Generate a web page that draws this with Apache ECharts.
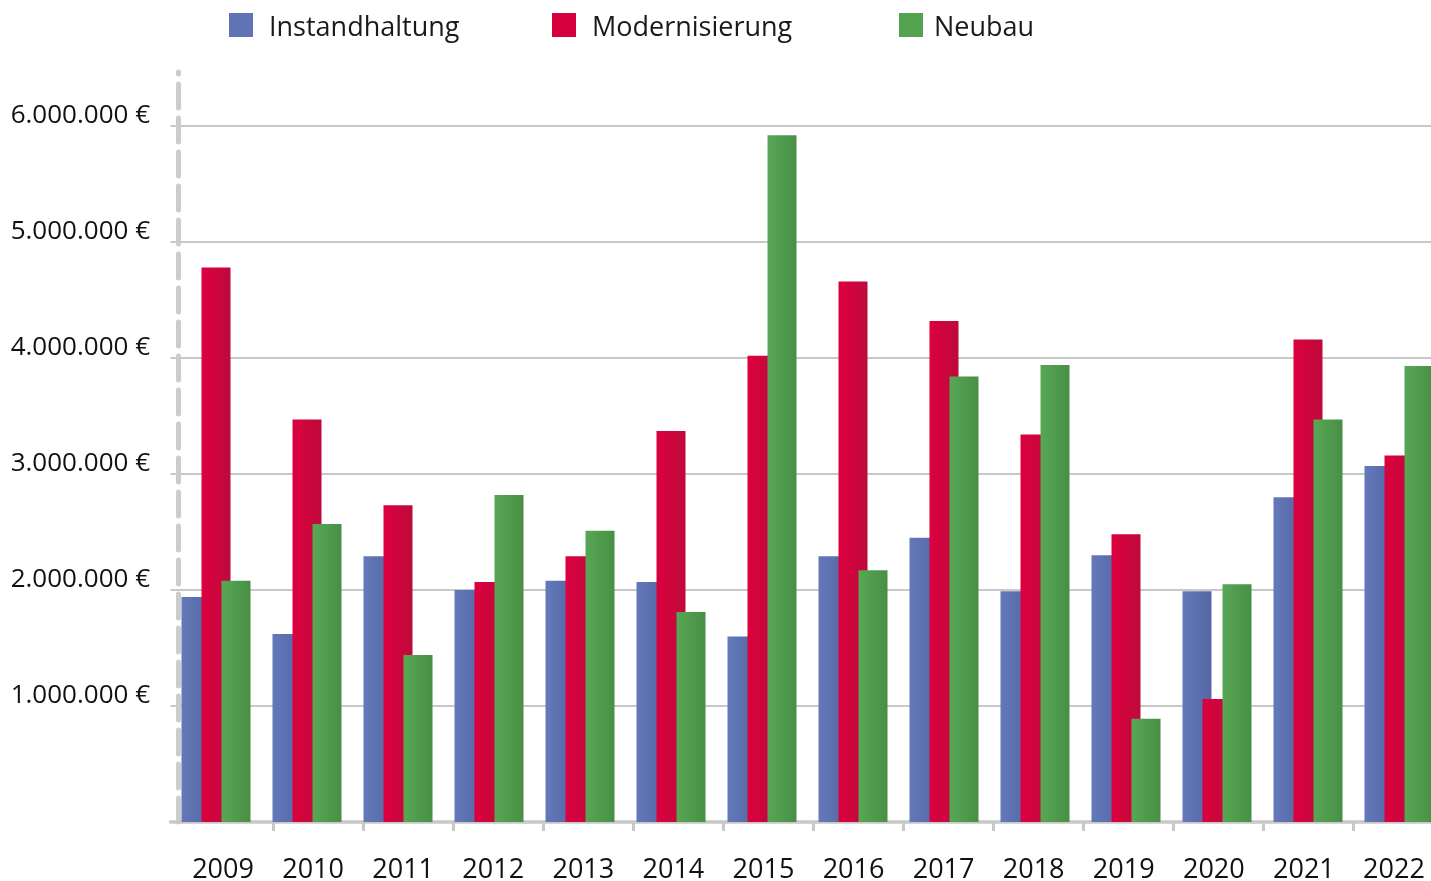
<!DOCTYPE html>
<html><head><meta charset="utf-8">
<script src="https://cdn.jsdelivr.net/npm/echarts@6/dist/echarts.min.js"></script>
<style>html,body{margin:0;padding:0;background:#fff}#c{width:1431px;height:881px}</style>
</head><body><div id="c"></div>
<script>
const years = ['2009','2010','2011','2012','2013','2014','2015','2016','2017','2018','2019','2020','2021','2022'];
const instandhaltung = [1940000,1620000,2290000,2000000,2080000,2070000,1600000,2290000,2450000,1990000,2300000,1990000,2800000,3070000];
const modernisierung = [4780000,3470000,2730000,2070000,2290000,3370000,4020000,4660000,4320000,3340000,2480000,1060000,4160000,3160000];
const neubau = [2080000,2570000,1440000,2820000,2510000,1810000,5920000,2170000,3840000,3940000,890000,2050000,3470000,3930000];
const seriesNames = ['Instandhaltung','Modernisierung','Neubau'];
const yTicks = [0,1000000,2000000,3000000,4000000,5000000,6000000];

const FONT = '"Open Sans", "Noto Sans", sans-serif';
const flat = ['#5f73b5','#d6003d','#53a350'];
function grad(a,b){return new echarts.graphic.LinearGradient(0,0,1,0,[{offset:0,color:a},{offset:1,color:b}]);}
const grads = [grad('#6479b9','#5467a5'), grad('#dc003f','#be0a3b'), grad('#57a755','#488f45')];
function fmt(v){ if(v===0) return ''; return String(v).replace(/\B(?=(\d{3})+(?!\d))/g,'.')+' €'; }

const chart = echarts.init(document.getElementById('c'), null, {renderer:'canvas'});
const legendLefts = [229, 552, 899];
const legendTextPad = [11, 11, 6];
const option = {
  animation:false,
  backgroundColor:'#fff',
  legend: seriesNames.map((n,i)=>({
    data:[{name:n, itemStyle:{color:flat[i]}}],
    left:legendLefts[i], top:13, padding:0,
    icon:'rect', itemWidth:24, itemHeight:24,
    formatter:'{t|{name}}',
    textStyle:{fontFamily:FONT, fontSize:27, color:'#1a1a1a',
      rich:{t:{fontFamily:FONT, fontSize:27, color:'#1a1a1a', padding:[7,0,0,legendTextPad[i]]}}}
  })),
  grid:[
    {left:170.5, top:126, width:1274, height:696, outerBoundsMode:'none'},
    {left:178, top:72, width:1261, height:750, outerBoundsMode:'none'},
    {left:273, top:126, width:1170, height:696, outerBoundsMode:'none'}
  ],
  xAxis:[
    {type:'category', gridIndex:0, data:years,
     axisLine:{show:true, lineStyle:{color:'#c8c8c8', width:3.5}},
     axisTick:{show:false}, axisLabel:{show:false}, splitLine:{show:false}},
    {type:'category', gridIndex:1, data:years,
     axisLine:{show:false}, axisTick:{show:false},
     axisLabel:{show:true, margin:35, fontFamily:FONT, fontSize:27, color:'#111'}},
    {type:'category', gridIndex:2, data:years.slice(1),
     axisLine:{show:false}, axisLabel:{show:false},
     axisTick:{show:true, length:9, lineStyle:{color:'#c8c8c8', width:3}}}
  ],
  yAxis:[
    {type:'value', gridIndex:0, min:yTicks[0], max:yTicks[yTicks.length-1], interval:1000000,
     axisLine:{show:false}, axisTick:{show:false},
     splitLine:{show:true, lineStyle:{color:'#c8c8c8', width:2}},
     axisLabel:{margin:20.5, formatter:fmt, fontFamily:FONT, fontSize:26, color:'#111', verticalAlign:'bottom', padding:[0,0,-3,0]}},
    {type:'value', gridIndex:1, min:0, max:1,
     axisLine:{show:true, lineStyle:{color:'#cccccc', width:5, type:[24,10], dashOffset:0}},
     axisTick:{show:false}, axisLabel:{show:false}, splitLine:{show:false}},
    {type:'value', gridIndex:2, show:false}
  ],
  series:[instandhaltung, modernisierung, neubau].map((d,i)=>({
    name:seriesNames[i], type:'bar', xAxisIndex:0, yAxisIndex:0,
    data:d, barWidth:29, barGap:'-31%',
    itemStyle:{color:grads[i]}
  }))
};
chart.setOption(option);
</script></body></html>
